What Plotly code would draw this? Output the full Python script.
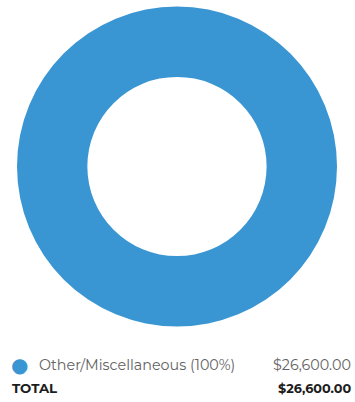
import plotly.graph_objects as go

# Expense breakdown
categories = ["Other/Miscellaneous"]
amounts = [26600.00]
colors = ["#3a96d3"]

total = sum(amounts)

W, H = 355, 402

fig = go.Figure()
fig.add_trace(go.Pie(
    labels=categories,
    values=amounts,
    hole=0.56,
    marker=dict(colors=colors, line=dict(width=0)),
    textinfo="none",
    hoverinfo="label+value+percent",
    sort=False,
    showlegend=False,
    domain=dict(x=[17 / W, 337 / W], y=[1 - 328 / H, 1 - 5 / H]),
))

font_main = "Montserrat, 'Open Sans', sans-serif"
annotations = []
row_y = 365
for i, (cat, amt, col) in enumerate(zip(categories, amounts, colors)):
    pct = amt / total * 100
    y = 1 - (row_y + i * 22) / H
    annotations.append(dict(
        x=19 / W, y=y, xref="paper", yref="paper", xanchor="center", yanchor="middle",
        text="●", showarrow=False, font=dict(size=20, color=col, family="DejaVu Sans"),
    ))
    annotations.append(dict(
        x=37 / W, y=y, xref="paper", yref="paper", xanchor="left", yanchor="middle",
        text=f"{cat} ({pct:.0f}%)", showarrow=False,
        font=dict(size=14.3, color="#626262", family=font_main),
    ))
    annotations.append(dict(
        x=353 / W, y=y, xref="paper", yref="paper", xanchor="right", yanchor="middle",
        text=f"${amt:,.2f}", showarrow=False,
        font=dict(size=14.3, color="#626262", family=font_main),
    ))

total_y = 1 - 388 / H
annotations.append(dict(
    x=10 / W, y=total_y, xref="paper", yref="paper", xanchor="left", yanchor="middle",
    text="<b>TOTAL</b>", showarrow=False, font=dict(size=13.3, color="#1c1c1c", family=font_main),
))
annotations.append(dict(
    x=353 / W, y=total_y, xref="paper", yref="paper", xanchor="right", yanchor="middle",
    text=f"<b>${total:,.2f}</b>", showarrow=False, font=dict(size=12.8, color="#1c1c1c", family=font_main),
))

fig.update_layout(
    width=W, height=H,
    margin=dict(l=0, r=0, t=0, b=0),
    paper_bgcolor="white",
    plot_bgcolor="white",
    annotations=annotations,
)

fig.write_html("out.html")
